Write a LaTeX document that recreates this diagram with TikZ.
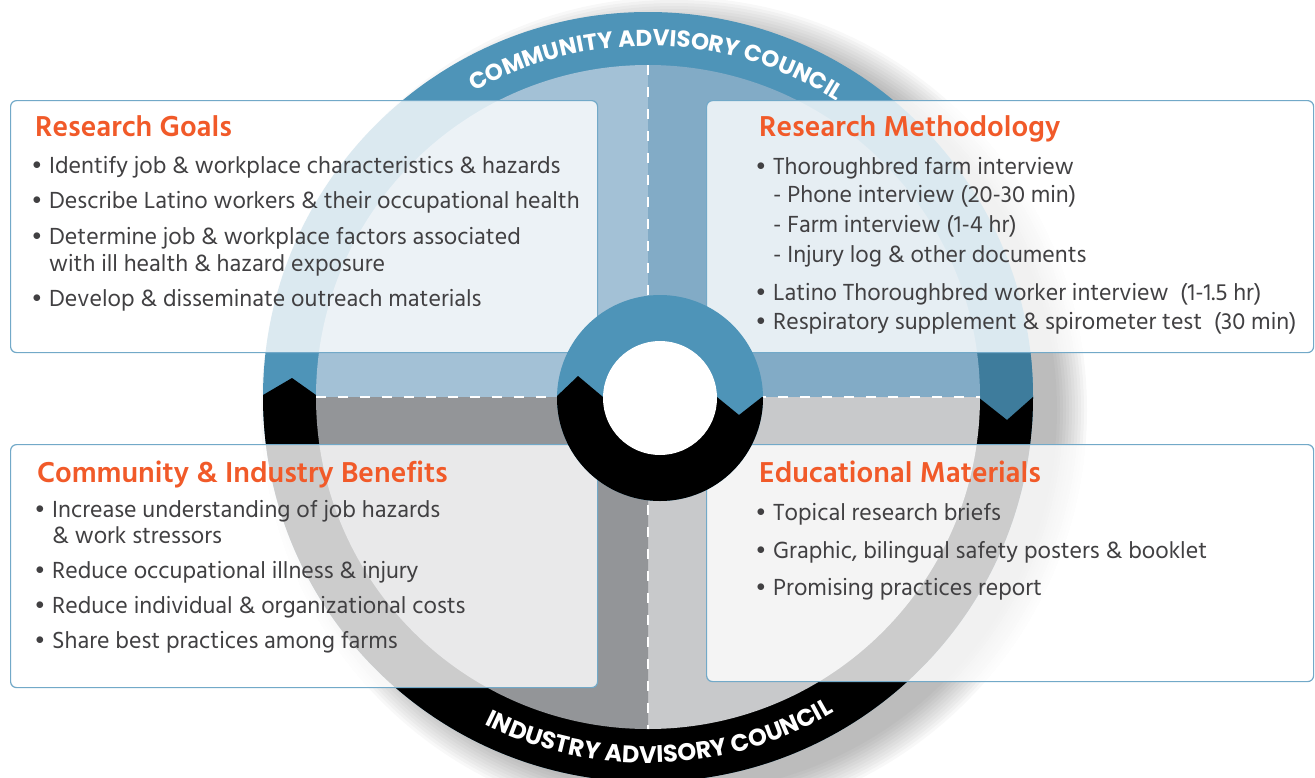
\documentclass[tikz,border=0pt]{standalone}
\usepackage{fontspec}
\setmainfont{Hind Madurai}
\newfontfamily\arcfont{Poppins}
\usetikzlibrary{decorations.text}
\definecolor{ringblue}{HTML}{4E94B8}
\definecolor{darkblue}{HTML}{3E7C9C}
\definecolor{qtl}{HTML}{A3C1D6}
\definecolor{qtr}{HTML}{82ABC6}
\definecolor{qbl}{HTML}{939598}
\definecolor{qbr}{HTML}{C8C9CB}
\definecolor{boxline}{HTML}{72A9C8}
\definecolor{ttlc}{HTML}{F15A29}
\definecolor{bodyc}{HTML}{414042}
\newcommand{\bl}{\makebox[0pt][r]{\raisebox{0.25ex}{$\scriptstyle\bullet$}\hspace{8pt}}}
\begin{document}
\begin{tikzpicture}[x=1pt,y=1pt,
  box/.style={draw=boxline, line width=1.2pt, fill=white, fill opacity=0.8, rounded corners=6pt, anchor=north west, inner sep=0pt},
  ttl/.style={anchor=base west, inner sep=0pt, text=ttlc, font=\fontsize{29.5}{32}\selectfont\bfseries},
  itm/.style={anchor=base west, inner sep=0pt, text=bodyc, font=\fontsize{23.9}{26}\selectfont},
  dsh/.style={white, line width=2.5pt, dash pattern=on 10pt off 12pt},
  arctext/.style 2 args={decorate, decoration={text along path, text align=center, text color=white,
     text={|\arcfont\bfseries\fontsize{#1}{#1}\selectfont|#2}}}
]
\useasboundingbox (0,0) rectangle (1315,-777);
\coordinate (c) at (648,-397);
\coordinate (d) at (660,-398);

% soft shadow of the big disc
\foreach \r in {383,386,...,413} \fill[black, opacity=0.026] (674,-410) circle (\r);

% outer ring
\fill[ringblue] (c) circle (385);
\begin{scope}
  \clip (c) circle (385);
  \fill[darkblue] (960,-352) rectangle (1040,-425);
  \fill[black] (240,-395) -- (263,-395) -- (292,-378) -- (316,-395) -- (978,-397)
     -- (1007,-420) -- (1033,-397) -- (1060,-397) -- (1060,-800) -- (240,-800) -- cycle;
\end{scope}

% quadrants
\fill[qtl] (c) -- ++(180:332) arc[start angle=180, end angle=90, radius=332] -- cycle;
\fill[qtr] (c) -- ++(90:332) arc[start angle=90, end angle=0, radius=332] -- cycle;
\fill[qbr] (c) -- ++(0:332) arc[start angle=0, end angle=-90, radius=332] -- cycle;
\fill[qbl] (c) -- ++(-90:332) arc[start angle=-90, end angle=-180, radius=332] -- cycle;
\draw[dsh] (648,-65) -- (648,-729);
\draw[dsh] (316,-397) -- (980,-397);

% curved labels
\path[arctext={23}{COMMUNITY ADVISORY COUNCIL}] ([shift={(148.5:351)}]c) arc[start angle=148.5, end angle=28.5, radius=351];
\path[arctext={24}{INDUSTRY ADVISORY COUNCIL}] ([shift={(212:366)}]c) arc[start angle=212, end angle=332, radius=366];

% boxes
\node[box, minimum width=587pt, minimum height=252pt] (boxTL) at (10,-100) {};
\node[box, minimum width=607pt, minimum height=252pt] (boxTR) at (706,-100) {};
\node[box, minimum width=587pt, minimum height=243pt] (boxBL) at (10,-444) {};
\node[box, minimum width=607pt, minimum height=237pt] (boxBR) at (706,-444) {};

% centre donut
\fill[ringblue] (d) circle (103);
\begin{scope}
  \clip (d) circle (103);
  \fill[black] (540,-397) -- (556,-397) -- (578,-376) -- (603,-397) -- (717,-397)
     -- (739,-415) -- (762,-397) -- (780,-397) -- (780,-520) -- (540,-520) -- cycle;
\end{scope}
\fill[white] (d) circle (57);

% texts: research goals
\node[ttl] (t1) at (35,-136) {Research Goals};
\node[itm] (g1) at (49,-173) {\bl Identify job \& workplace characteristics \& hazards};
\node[itm] (g2) at (49,-208) {\bl Describe Latino workers \& their occupational health};
\node[itm] (g3) at (49,-244) {\bl Determine job \& workplace factors associated};
\node[itm] (g3b) at (49,-271) {with ill health \& hazard exposure};
\node[itm] (g4) at (49,-306) {\bl Develop \& disseminate outreach materials};

% research methodology
\node[ttl] (t2) at (759,-136) {Research Methodology};
\node[itm] (m1) at (773,-174) {\bl Thoroughbred farm interview};
\node[itm] (m2) at (773,-202) {- Phone interview (20-30 min)};
\node[itm] (m3) at (773,-232) {- Farm interview (1-4 hr)};
\node[itm] (m4) at (773,-262) {- Injury log \& other documents};
\node[itm] (m5) at (773,-300) {\bl Latino Thoroughbred worker interview\ \ (1-1.5 hr)};
\node[itm] (m6) at (773,-329) {\bl Respiratory supplement \& spirometer test\ \ (30 min)};

% community & industry benefits
\node[ttl] (t3) at (37,-482) {Community \& Industry Benefits};
\node[itm] (b1) at (52,-517) {\bl Increase understanding of job hazards};
\node[itm] (b1b) at (52,-543) {\& work stressors};
\node[itm] (b2) at (52,-578) {\bl Reduce occupational illness \& injury};
\node[itm] (b3) at (52,-613) {\bl Reduce individual \& organizational costs};
\node[itm] (b4) at (52,-648) {\bl Share best practices among farms};

% educational materials
\node[ttl] (t4) at (759,-482) {Educational Materials};
\node[itm] (e1) at (773,-520) {\bl Topical research briefs};
\node[itm] (e2) at (773,-558) {\bl Graphic, bilingual safety posters \& booklet};
\node[itm] (e3) at (773,-595) {\bl Promising practices report};
\end{tikzpicture}
\end{document}
